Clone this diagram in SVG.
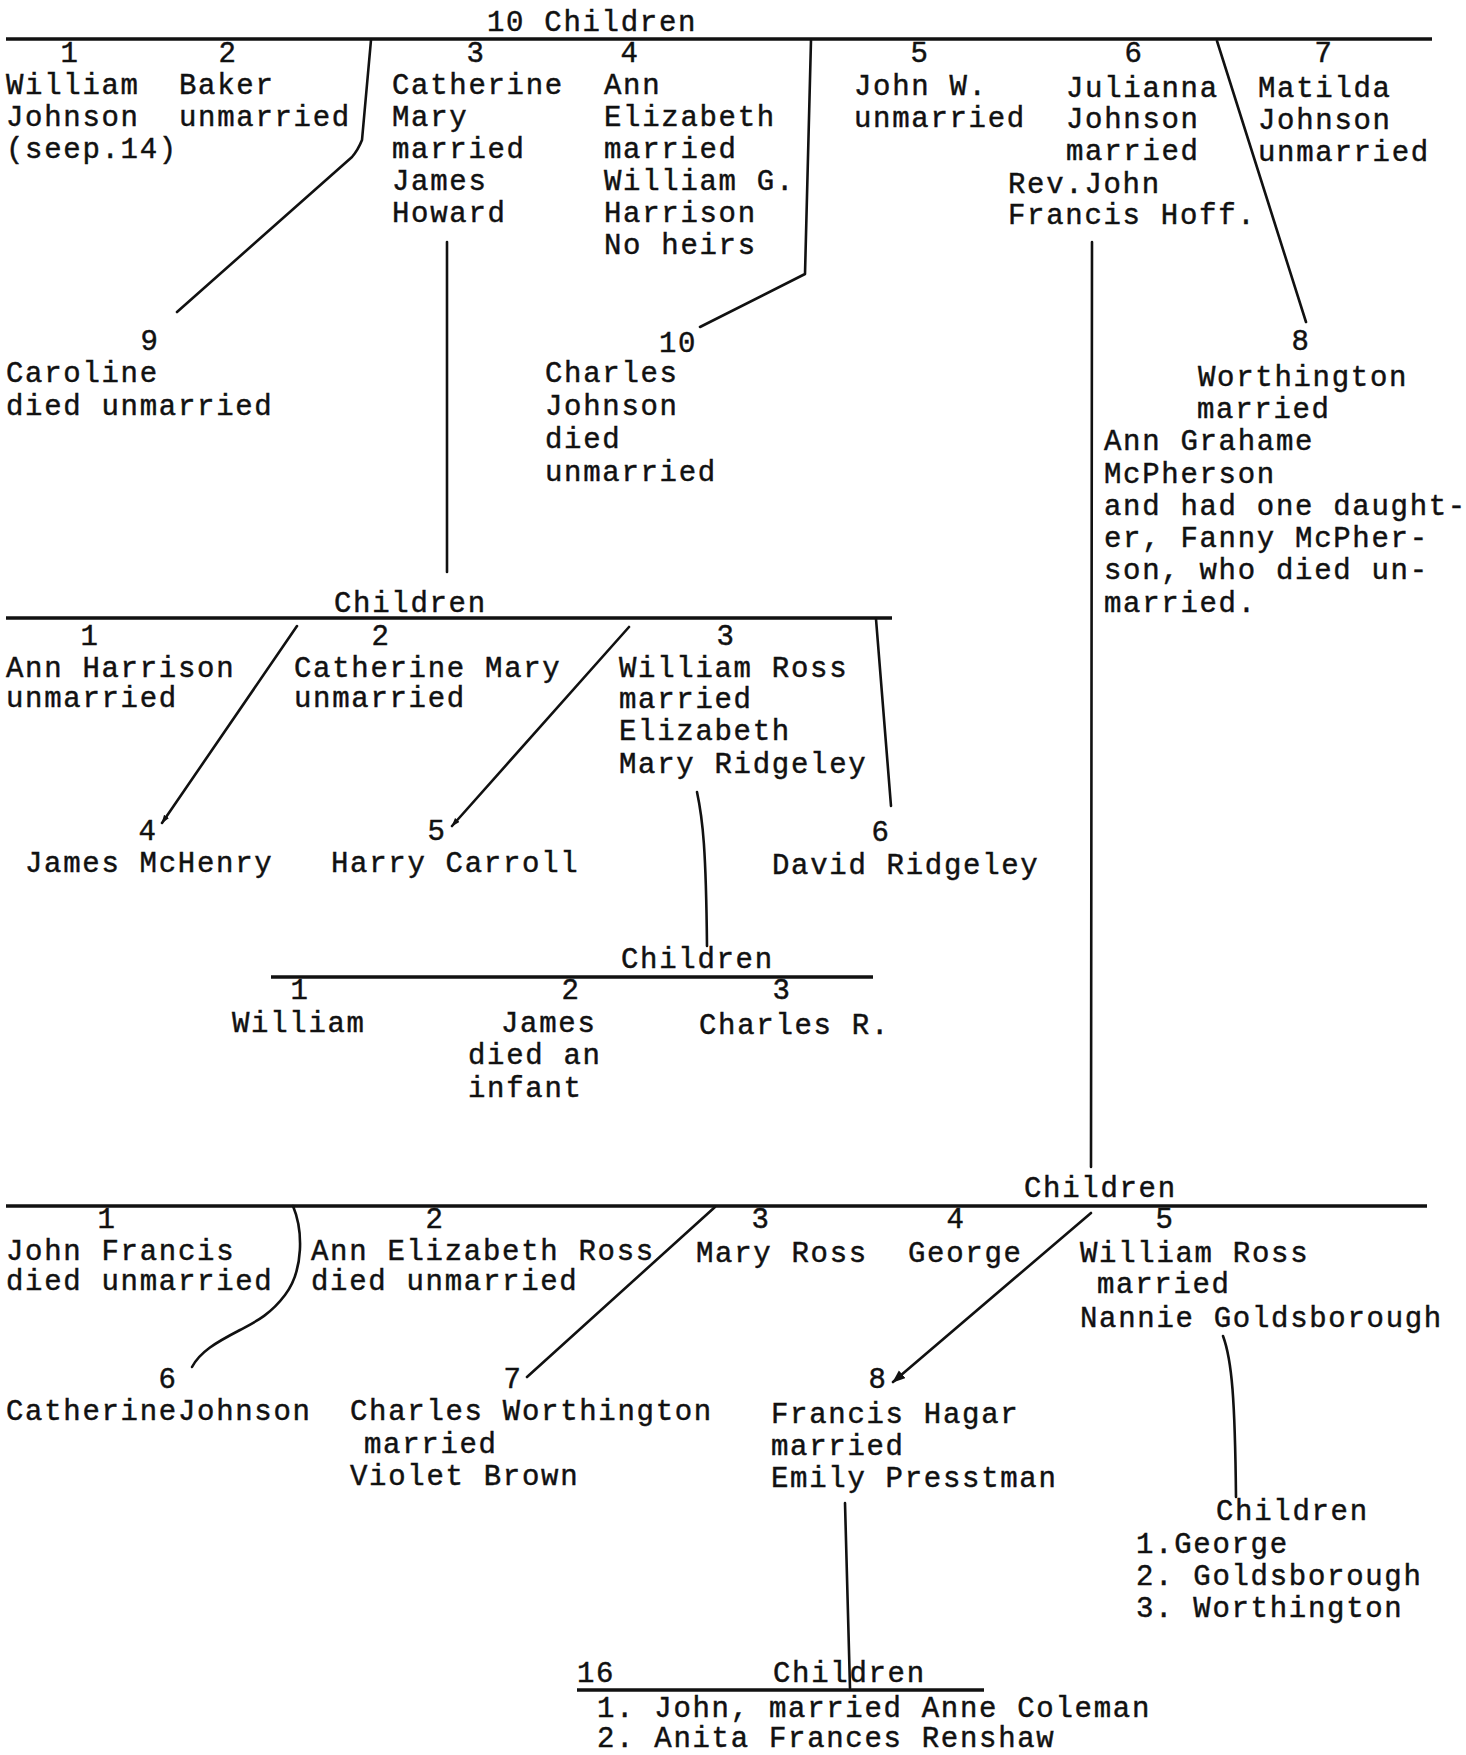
<svg xmlns="http://www.w3.org/2000/svg" width="1466" height="1755" viewBox="0 0 1466 1755">
<style>
.t{font-family:"Liberation Mono","DejaVu Sans Mono",monospace;font-size:29px;letter-spacing:1.7px;fill:#111;stroke:#111;stroke-width:0.45px}
.c{text-anchor:middle}
.ln{fill:none;stroke:#111;stroke-width:2.6;stroke-linecap:round;stroke-linejoin:round}
.bar{fill:none;stroke:#111;stroke-width:3.4}
</style>
<defs>
<marker id="arr" markerUnits="userSpaceOnUse" markerWidth="14" markerHeight="12" refX="12" refY="5" orient="auto">
<path d="M0,0 L13,5 L0,10 Z" fill="#111"/>
</marker>
<marker id="arrs" markerUnits="userSpaceOnUse" markerWidth="10" markerHeight="8" refX="8" refY="3" orient="auto">
<path d="M0,0 L9,3 L0,6 Z" fill="#111"/>
</marker>
</defs>
<rect width="1466" height="1755" fill="#fff"/>

<g id="connectors">
<path class="bar" d="M6,39 H1432"/>
<path class="bar" d="M6,618 H892"/>
<path class="bar" d="M271,977 H873"/>
<path class="bar" d="M6,1206 H1427"/>
<path class="bar" d="M577,1690 H984"/>
<path class="ln" d="M371,40 L362,140 Q358,150 352,157 L177,312"/>
<path class="ln" d="M811,40 L805,274 L700,327"/>
<path class="ln" d="M1217,41 L1306,322"/>
<path class="ln" d="M447,242 V572"/>
<path class="ln" d="M1092,242 L1091,1167"/>
<path class="ln" d="M297,626 L162,823" marker-end="url(#arrs)"/>
<path class="ln" d="M629,627 L452,826" marker-end="url(#arrs)"/>
<path class="ln" d="M876,619 L891,806"/>
<path class="ln" d="M697,792 C703,820 706,850 707,946"/>
<path class="ln" d="M293,1206 C303,1230 304,1270 285,1295 C270,1315 255,1322 240,1330 C215,1343 200,1352 192,1367"/>
<path class="ln" d="M715,1207 L527,1377"/>
<path class="ln" d="M1091,1213 L893,1382" marker-end="url(#arr)"/>
<path class="ln" d="M845,1503 L850,1688"/>
<path class="ln" d="M1223,1336 C1232,1360 1235,1400 1236,1497"/>
</g>

<g id="header-top"><text class="t" x="487" y="31">10 Children</text></g>

<g id="n1"><text class="t c" x="70" y="62">1</text>
<text class="t" x="6" y="94">William</text><text class="t" x="6" y="126">Johnson</text><text class="t" x="6" y="158">(seep.14)</text></g>

<g id="n2"><text class="t c" x="228" y="62">2</text>
<text class="t" x="179" y="94">Baker</text><text class="t" x="179" y="126">unmarried</text></g>

<g id="n3"><text class="t c" x="476" y="62">3</text>
<text class="t" x="392" y="94">Catherine</text><text class="t" x="392" y="126">Mary</text><text class="t" x="392" y="158">married</text><text class="t" x="392" y="190">James</text><text class="t" x="392" y="222">Howard</text></g>

<g id="n4"><text class="t c" x="630" y="62">4</text>
<text class="t" x="604" y="94">Ann</text><text class="t" x="604" y="126">Elizabeth</text><text class="t" x="604" y="158">married</text><text class="t" x="604" y="190">William G.</text><text class="t" x="604" y="222">Harrison</text><text class="t" x="604" y="254">No heirs</text></g>

<g id="n5"><text class="t c" x="920" y="62">5</text>
<text class="t" x="854" y="95">John W.</text><text class="t" x="854" y="127">unmarried</text></g>

<g id="n6"><text class="t c" x="1134" y="62">6</text>
<text class="t" x="1066" y="97">Julianna</text><text class="t" x="1066" y="128">Johnson</text><text class="t" x="1066" y="160">married</text><text class="t" x="1008" y="193">Rev.John</text><text class="t" x="1008" y="224">Francis Hoff.</text></g>

<g id="n7"><text class="t c" x="1324" y="62">7</text>
<text class="t" x="1258" y="97">Matilda</text><text class="t" x="1258" y="129">Johnson</text><text class="t" x="1258" y="161">unmarried</text></g>

<g id="n9"><text class="t c" x="150" y="350">9</text>
<text class="t" x="6" y="382">Caroline</text><text class="t" x="6" y="415">died unmarried</text></g>

<g id="n10"><text class="t c" x="678" y="352">10</text>
<text class="t" x="545" y="382">Charles</text><text class="t" x="545" y="415">Johnson</text><text class="t" x="545" y="448">died</text><text class="t" x="545" y="481">unmarried</text></g>

<g id="n8"><text class="t c" x="1301" y="350">8</text>
<text class="t" x="1198" y="386">Worthington</text><text class="t" x="1197" y="418">married</text>
<text class="t" x="1104" y="450">Ann Grahame</text><text class="t" x="1104" y="483">McPherson</text><text class="t" x="1104" y="515">and had one daught-</text><text class="t" x="1104" y="547">er, Fanny McPher-</text><text class="t" x="1104" y="579">son, who died un-</text><text class="t" x="1104" y="612">married.</text></g>

<g id="header-mid"><text class="t" x="334" y="612">Children</text></g>

<g id="m1"><text class="t c" x="90" y="645">1</text>
<text class="t" x="6" y="677">Ann Harrison</text><text class="t" x="6" y="707">unmarried</text></g>

<g id="m2"><text class="t c" x="381" y="645">2</text>
<text class="t" x="294" y="677">Catherine Mary</text><text class="t" x="294" y="707">unmarried</text></g>

<g id="m3"><text class="t c" x="726" y="645">3</text>
<text class="t" x="619" y="677">William Ross</text><text class="t" x="619" y="708">married</text><text class="t" x="619" y="740">Elizabeth</text><text class="t" x="619" y="773">Mary Ridgeley</text></g>

<g id="m4"><text class="t c" x="148" y="840">4</text>
<text class="t" x="25" y="872">James McHenry</text></g>

<g id="m5"><text class="t c" x="437" y="840">5</text>
<text class="t" x="331" y="872">Harry Carroll</text></g>

<g id="m6"><text class="t c" x="881" y="841">6</text>
<text class="t" x="772" y="874">David Ridgeley</text></g>

<g id="header-grand"><text class="t" x="621" y="968">Children</text></g>

<g id="g1"><text class="t c" x="300" y="999">1</text>
<text class="t" x="232" y="1032">William</text></g>

<g id="g2"><text class="t c" x="571" y="999">2</text>
<text class="t" x="501" y="1032">James</text><text class="t" x="468" y="1064">died an</text><text class="t" x="468" y="1097">infant</text></g>

<g id="g3"><text class="t c" x="782" y="999">3</text>
<text class="t" x="699" y="1034">Charles R.</text></g>

<g id="header-bottom"><text class="t" x="1024" y="1197">Children</text></g>

<g id="b1"><text class="t c" x="107" y="1228">1</text>
<text class="t" x="6" y="1260">John Francis</text><text class="t" x="6" y="1290">died unmarried</text></g>

<g id="b2"><text class="t c" x="435" y="1228">2</text>
<text class="t" x="311" y="1260">Ann Elizabeth Ross</text><text class="t" x="311" y="1290">died unmarried</text></g>

<g id="b3"><text class="t c" x="761" y="1228">3</text>
<text class="t" x="696" y="1262">Mary Ross</text></g>

<g id="b4"><text class="t c" x="956" y="1228">4</text>
<text class="t" x="908" y="1262">George</text></g>

<g id="b5"><text class="t c" x="1165" y="1228">5</text>
<text class="t" x="1080" y="1262">William Ross</text><text class="t" x="1097" y="1293">married</text><text class="t" x="1080" y="1327">Nannie Goldsborough</text></g>

<g id="b6"><text class="t c" x="168" y="1388">6</text>
<text class="t" x="6" y="1420">CatherineJohnson</text></g>

<g id="b7"><text class="t c" x="513" y="1388">7</text>
<text class="t" x="350" y="1420">Charles Worthington</text><text class="t" x="364" y="1453">married</text><text class="t" x="350" y="1485">Violet Brown</text></g>

<g id="b8"><text class="t c" x="878" y="1388">8</text>
<text class="t" x="771" y="1423">Francis Hagar</text><text class="t" x="771" y="1455">married</text><text class="t" x="771" y="1487">Emily Presstman</text></g>

<g id="b5-children"><text class="t" x="1216" y="1520">Children</text>
<text class="t" x="1136" y="1553">1.George</text><text class="t" x="1136" y="1585">2. Goldsborough</text><text class="t" x="1136" y="1617">3. Worthington</text></g>

<g id="b8-children"><text class="t" x="577" y="1682">16</text><text class="t" x="773" y="1682">Children</text>
<text class="t" x="597" y="1717">1. John, married Anne Coleman</text><text class="t" x="597" y="1747">2. Anita Frances Renshaw</text></g>
</svg>
